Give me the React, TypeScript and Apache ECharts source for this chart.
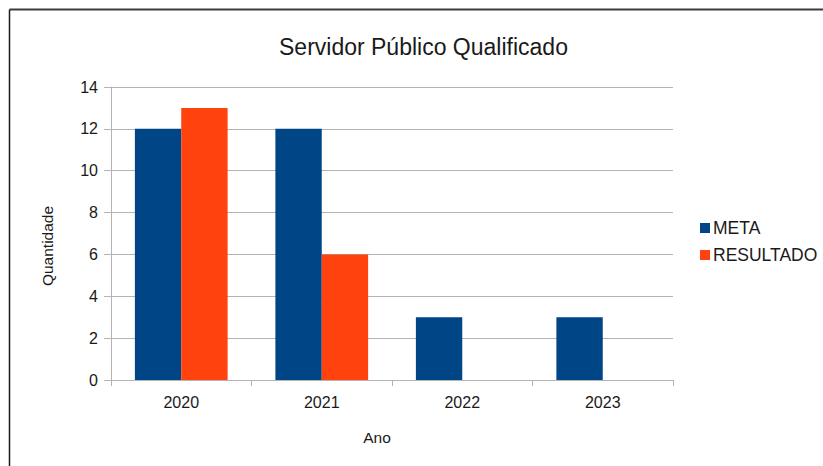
import React, { useEffect, useRef } from "react";
import * as echarts from "echarts";

const categories = ["2020", "2021", "2022", "2023"];
const metaValues = [12, 12, 3, 3];
const resultadoValues = [13, 6, null, null];
const seriesNames = ["META", "RESULTADO"];
const titleText = "Servidor Público Qualificado";
const yAxisName = "Quantidade";
const xAxisName = "Ano";

export default function App() {
  const ref = useRef<HTMLDivElement>(null);
  useEffect(() => {
    if (!ref.current) return;
    const chart = echarts.init(ref.current, undefined, { renderer: "svg" });
    const font = "'Liberation Sans', Arial, sans-serif";
    chart.setOption({
      animation: false,
      backgroundColor: "#ffffff",
      textStyle: { fontFamily: font },
      title: {
        text: titleText,
        left: 274,
        top: 30,
        textStyle: { fontFamily: font, fontSize: 23, fontWeight: "normal", color: "#1a1a1a" },
      },
      legend: {
        orient: "vertical",
        left: 695,
        top: 214,
        itemWidth: 10,
        itemHeight: 10,
        itemGap: 9,
        icon: "rect",
        data: seriesNames,
        textStyle: { fontFamily: font, fontSize: 17.5, color: "#1a1a1a", padding: [0, 0, 0, -2] },
      },
      grid: { left: 111, top: 87, right: 150, bottom: 86, containLabel: false },
      xAxis: {
        type: "category",
        data: categories,
        axisLine: { show: true, lineStyle: { color: "#b3b3b3", width: 1 } },
        axisTick: { show: true, length: 6, lineStyle: { color: "#b3b3b3" } },
        axisLabel: { fontFamily: font, fontSize: 16, color: "#1a1a1a", margin: 14 },
        splitLine: { show: false },
      },
      yAxis: {
        type: "value",
        min: 0,
        max: 14,
        interval: 2,
        axisLine: { show: true, lineStyle: { color: "#b3b3b3", width: 1 } },
        axisTick: { show: true, length: 7, lineStyle: { color: "#b3b3b3" } },
        axisLabel: { fontFamily: font, fontSize: 16, color: "#1a1a1a", margin: 13 },
        splitLine: { show: true, lineStyle: { color: "#b3b3b3", width: 1 } },
      },
      series: [
        {
          name: seriesNames[0],
          type: "bar",
          data: metaValues,
          itemStyle: { color: "#004586" },
          barGap: "0%",
          barCategoryGap: "34%",
        },
        {
          name: seriesNames[1],
          type: "bar",
          data: resultadoValues,
          itemStyle: { color: "#ff420e" },
          barGap: "0%",
          barCategoryGap: "34%",
        },
      ],
      graphic: [
        { type: "line", shape: { x1: 9.5, y1: 9.5, x2: 823, y2: 9.5 }, style: { stroke: "#3c3c3c", lineWidth: 2 } },
        { type: "line", shape: { x1: 9.5, y1: 9.5, x2: 9.5, y2: 466 }, style: { stroke: "#1a1a1a", lineWidth: 1.5 } },
        {
          type: "text",
          x: 47,
          y: 246,
          rotation: Math.PI / 2,
          style: {
            text: yAxisName,
            fontFamily: font,
            fontSize: 15.5,
            fill: "#1a1a1a",
            align: "center",
            verticalAlign: "middle",
          },
        },
        {
          type: "text",
          x: 377,
          y: 437,
          style: {
            text: xAxisName,
            fontFamily: font,
            fontSize: 15.5,
            fill: "#1a1a1a",
            align: "center",
            verticalAlign: "middle",
          },
        },
      ],
    });
    return () => chart.dispose();
  }, []);
  return (
    <div
      ref={ref}
      style={{ position: "fixed", left: 0, top: 0, width: 823, height: 466 }}
    />
  );
}
